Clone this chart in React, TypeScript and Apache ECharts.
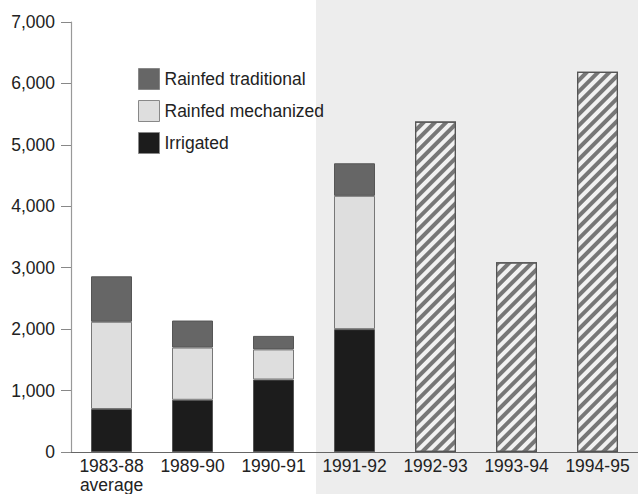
import React, { useEffect, useRef } from "react";
import * as echarts from "echarts";

const categories = ["1983-88\naverage", "1989-90", "1990-91", "1991-92", "1992-93", "1993-94", "1994-95"];
const irrigated = [700, 850, 1180, 2000, null, null, null];
const rainfedMechanized = [1420, 850, 490, 2170, null, null, null];
const rainfedTraditional = [740, 440, 220, 530, null, null, null];
const projected = [null, null, null, null, 5380, 3090, 6190];
const yTicks = { min: 0, max: 7000, interval: 1000 };

const FONT = "'Liberation Sans', Arial, Helvetica, sans-serif";

export default function App() {
  const ref = useRef<HTMLDivElement>(null);
  useEffect(() => {
    if (!ref.current) return;
    const chart = echarts.init(ref.current, null, { renderer: "svg" });
    const border = { borderColor: "#555", borderWidth: 1 };
    chart.setOption({
      animation: false,
      backgroundColor: "#ffffff",
      textStyle: { fontFamily: FONT },
      graphic: [
        {
          type: "rect",
          z: -10,
          silent: true,
          shape: { x: 316, y: 0, width: 322, height: 494 },
          style: { fill: "#ededed" },
        },
      ],
      legend: {
        orient: "vertical",
        left: 133,
        top: 63,
        icon: "rect",
        itemWidth: 21,
        itemHeight: 21,
        itemGap: 10,
        data: ["Rainfed traditional", "Rainfed mechanized", "Irrigated"],
        textStyle: { fontFamily: FONT, fontSize: 17.5, color: "#222" },
        itemStyle: { borderColor: "#888", borderWidth: 1 },
      },
      grid: { left: 71, right: 0, top: 22, bottom: 40, containLabel: false },
      xAxis: {
        type: "category",
        data: categories,
        axisLine: { show: true, lineStyle: { color: "#666", width: 1.2 } },
        axisTick: { show: false },
        axisLabel: { color: "#222", fontSize: 17.5, fontFamily: FONT, lineHeight: 19, margin: 4, interval: 0 },
      },
      yAxis: {
        type: "value",
        min: yTicks.min,
        max: yTicks.max,
        interval: yTicks.interval,
        axisLine: { show: true, lineStyle: { color: "#999", width: 1.2 } },
        axisTick: { show: true, length: 10, lineStyle: { color: "#888" } },
        splitLine: { show: false },
        axisLabel: {
          color: "#222",
          fontSize: 17.5,
          fontFamily: FONT,
          margin: 16,
          formatter: (v: number) => v.toLocaleString("en-US"),
        },
      },
      series: [
        {
          name: "Irrigated",
          type: "bar",
          stack: "total",
          barWidth: 41,
          data: irrigated,
          itemStyle: { color: "#1c1c1c", ...border },
        },
        {
          name: "Rainfed mechanized",
          type: "bar",
          stack: "total",
          barWidth: 41,
          data: rainfedMechanized,
          itemStyle: { color: "#dedede", ...border, borderColor: "#777" },
        },
        {
          name: "Rainfed traditional",
          type: "bar",
          stack: "total",
          barWidth: 41,
          data: rainfedTraditional,
          itemStyle: { color: "#666666", ...border },
        },
        {
          name: "Projected",
          type: "bar",
          stack: "total",
          barWidth: 41,
          data: projected,
          itemStyle: {
            color: "#f2f2f2",
            borderColor: "#555",
            borderWidth: 1.2,
            decal: {
              symbol: "rect",
              symbolSize: 1,
              color: "#777777",
              dashArrayX: [1, 0],
              dashArrayY: [4, 4],
              rotation: -Math.PI / 4,
            },
          },
        },
      ],
    });
    return () => chart.dispose();
  }, []);
  return <div ref={ref} style={{ position: "fixed", left: 0, top: 0, width: 638, height: 494 }} />;
}
